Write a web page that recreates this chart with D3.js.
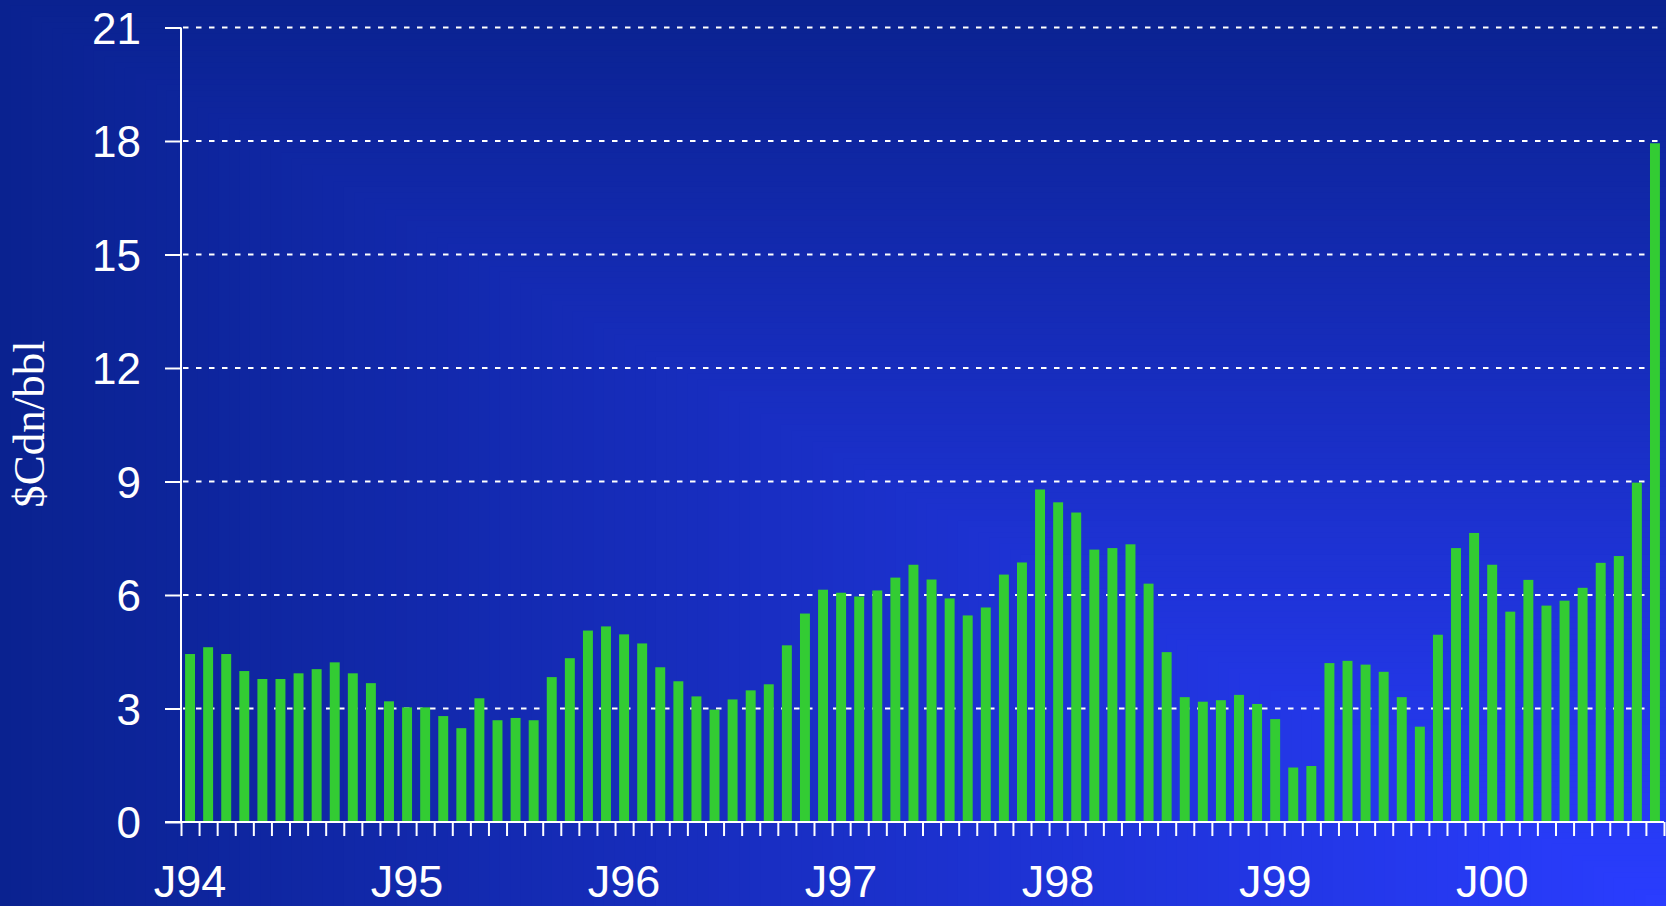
<!DOCTYPE html>
<html>
<head>
<meta charset="utf-8">
<script src="https://cdn.jsdelivr.net/npm/d3@7"></script>
<style>
  html, body { margin: 0; padding: 0; background: #0a2290; overflow: hidden; }
  svg { display: block; }
</style>
</head>
<body>
<svg id="chart" width="1666" height="906"></svg>
<script>
// ---- Data (monthly, $Cdn/bbl) ----
const years = ["94", "95", "96", "97", "98", "99", "00"];
const monthCodes = ["J","F","M","A","M","J","J","A","S","O","N","D"];
const values1994 = [4.44, 4.62, 4.44, 3.99, 3.78, 3.78, 3.93, 4.04, 4.22, 3.93, 3.67, 3.19];
const values1995 = [3.03, 3.03, 2.80, 2.48, 3.27, 2.69, 2.75, 2.69, 3.83, 4.33, 5.06, 5.17];
const values1996 = [4.96, 4.72, 4.09, 3.72, 3.32, 2.97, 3.24, 3.48, 3.64, 4.67, 5.51, 6.14];
const values1997 = [6.06, 5.96, 6.12, 6.46, 6.80, 6.41, 5.91, 5.46, 5.67, 6.54, 6.86, 8.79];
const values1998 = [8.45, 8.18, 7.20, 7.24, 7.34, 6.30, 4.49, 3.30, 3.18, 3.22, 3.36, 3.12];
const values1999 = [2.72, 1.44, 1.48, 4.20, 4.26, 4.16, 3.97, 3.30, 2.52, 4.95, 7.24, 7.64];
const values2000 = [6.80, 5.56, 6.40, 5.72, 5.85, 6.19, 6.85, 7.03, 8.97, 17.94];
const yTicks = [0, 3, 6, 9, 12, 15, 18, 21];
const xTickLabels = ["J94", "J95", "J96", "J97", "J98", "J99", "J00"];
const yTitle = "$Cdn/bbl";

const series = [values1994, values1995, values1996, values1997, values1998, values1999, values2000];
const data = [];
series.forEach((arr, yi) => arr.forEach((v, mi) => data.push({ key: monthCodes[mi] + years[yi] + "-" + mi, value: v })));

// ---- Layout ----
const W = 1666, H = 906;
const svg = d3.select("#chart");

// background: rectangular gradient from bottom-right corner
const cDark = d3.rgb("#0a2290"), cBright = d3.rgb("#2a3dff");
const interp = d3.interpolateRgb(cBright, cDark);
const steps = 160;
const bg = svg.append("g");
for (let i = steps; i >= 1; i--) {
  const t = i / steps;
  bg.append("rect")
    .attr("x", W - W * t).attr("y", H - H * t)
    .attr("width", W * t + 1).attr("height", H * t + 1)
    .attr("fill", interp(t));
}

const x0 = 181, x1 = 1664, yBase = 822, yTop = 27.5;

const x = d3.scaleBand().domain(data.map(d => d.key)).range([x0, x1]).paddingInner(0.45).paddingOuter(0.225);
const xLin = d3.scaleLinear().domain([0, data.length]).range([x0, x1]);
const y = d3.scaleLinear().domain([0, 21]).range([yBase, yTop]);

// gridlines
svg.append("g").selectAll("line").data(yTicks.filter(v => v > 0)).join("line")
  .attr("x1", x0 + 2).attr("x2", 1661)
  .attr("y1", d => y(d)).attr("y2", d => y(d))
  .attr("stroke", "#ffffff").attr("stroke-width", 2)
  .attr("stroke-dasharray", "5.5,7.5");

// bars
svg.append("g").selectAll("rect").data(data).join("rect")
  .attr("x", d => x(d.key))
  .attr("width", x.bandwidth())
  .attr("y", d => y(d.value))
  .attr("height", d => yBase - y(d.value))
  .attr("fill", "#33cc33");

// y axis
const yAxis = svg.append("g").attr("transform", `translate(${x0},0)`)
  .call(d3.axisLeft(y).tickValues(yTicks).tickSize(16).tickPadding(24).tickFormat(d3.format("d")));
yAxis.select(".domain").attr("stroke", "#fff").attr("stroke-width", 2).attr("d", `M0,${yBase}V${yTop}`);
yAxis.selectAll(".tick line").attr("stroke", "#fff").attr("stroke-width", 2);
yAxis.selectAll(".tick text").attr("fill", "#fff")
  .style("font-family", "'Liberation Sans', Arial, sans-serif").style("font-size", "44px").attr("dy", "0.36em");

// x axis (ticks at month boundaries)
const xAxis = svg.append("g").attr("transform", `translate(0,${yBase})`)
  .call(d3.axisBottom(xLin).tickValues(d3.range(0, data.length + 1)).tickSize(14).tickFormat(""));
xAxis.select(".domain").attr("stroke", "#fff").attr("stroke-width", 2).attr("d", `M${x0 - 16},0H${x1}`);
xAxis.selectAll(".tick line").attr("stroke", "#fff").attr("stroke-width", 2);

// x labels at each January
svg.append("g").selectAll("text").data(xTickLabels).join("text")
  .attr("x", (d, i) => x(data[i * 12].key) + x.bandwidth() / 2)
  .attr("y", 897)
  .attr("text-anchor", "middle")
  .attr("fill", "#fff")
  .style("font-family", "'Liberation Sans', Arial, sans-serif")
  .style("font-size", "45px")
  .text(d => d);

// y title
svg.append("text")
  .attr("transform", "translate(44,424) rotate(-90)")
  .attr("text-anchor", "middle")
  .attr("fill", "#fff")
  .style("font-family", "'Liberation Serif', 'Times New Roman', serif")
  .style("font-size", "45px")
  .text(yTitle);
</script>
</body>
</html>
